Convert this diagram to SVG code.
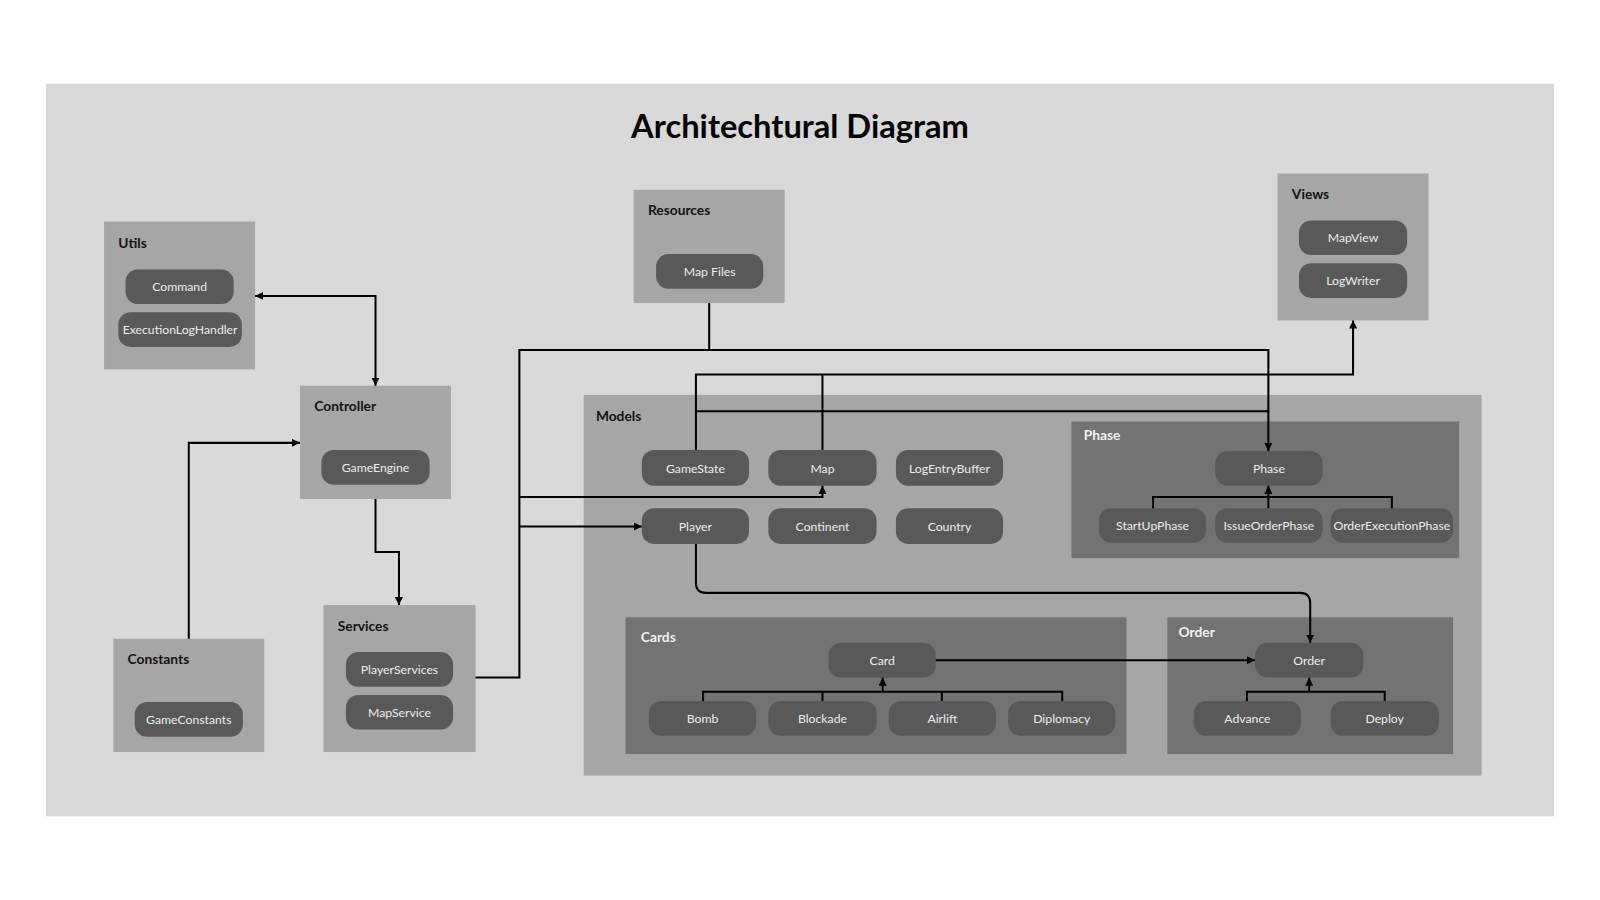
<svg xmlns="http://www.w3.org/2000/svg" width="1600" height="900" viewBox="0 0 1600 900">
<style>
.bg{fill:#d9d9d9}
.grp{fill:#a6a6a6}
.sub{fill:#737373}
.node{fill:#595959}
.nt{font-family:Lato,"Open Sans",sans-serif;font-size:12px;fill:#eeeeee;text-anchor:middle;dominant-baseline:central}
.gl{font-family:Lato,"Open Sans",sans-serif;font-size:13.5px;font-weight:bold;fill:#111111}
.glw{font-family:Lato,"Open Sans",sans-serif;font-size:13.5px;font-weight:bold;fill:#f2f2f2}
.title{font-family:Lato,"Open Sans",sans-serif;font-size:32px;font-weight:bold;fill:#000;text-anchor:middle}
.ln{fill:none;stroke:#000;stroke-width:2}
</style>
<defs>
<marker id="ah" viewBox="0 0 8 8" refX="8" refY="4" markerWidth="8" markerHeight="8" markerUnits="userSpaceOnUse" orient="auto-start-reverse">
<path d="M0,0 L8,4 L0,8 z" fill="#000"/>
</marker>
</defs>
<rect width="1600" height="900" fill="#ffffff"/>
<g transform="scale(1.020408)">
<rect class="bg" x="45" y="82" width="1478" height="718"/>
<text class="title" x="784" y="135">Architechtural Diagram</text>

<g id="utils">
<rect class="grp" x="102" y="217" width="148" height="145"/>
<text class="gl" x="116" y="243">Utils</text>
<rect class="node" x="123" y="264" width="106" height="34" rx="12"/>
<text class="nt" x="176" y="281">Command</text>
<rect class="node" x="116" y="306" width="121" height="34" rx="12"/>
<text class="nt" x="176.5" y="323">ExecutionLogHandler</text>
</g>

<g id="controller">
<rect class="grp" x="294" y="378" width="148" height="111"/>
<text class="gl" x="308" y="403">Controller</text>
<rect class="node" x="315" y="441" width="106" height="34" rx="12"/>
<text class="nt" x="368" y="458">GameEngine</text>
</g>

<g id="services">
<rect class="grp" x="317" y="593" width="149" height="144"/>
<text class="gl" x="331" y="618">Services</text>
<rect class="node" x="339" y="639" width="105" height="34" rx="12"/>
<text class="nt" x="391.5" y="656">PlayerServices</text>
<rect class="node" x="339" y="681" width="105" height="34" rx="12"/>
<text class="nt" x="391.5" y="698">MapService</text>
</g>

<g id="constants">
<rect class="grp" x="111" y="626" width="148" height="111"/>
<text class="gl" x="125" y="651">Constants</text>
<rect class="node" x="132" y="688" width="106" height="34" rx="12"/>
<text class="nt" x="185" y="705">GameConstants</text>
</g>

<g id="resources">
<rect class="grp" x="621" y="186" width="148" height="111"/>
<text class="gl" x="635" y="211">Resources</text>
<rect class="node" x="643" y="249" width="105" height="34" rx="12"/>
<text class="nt" x="695.5" y="266">Map Files</text>
</g>

<g id="views">
<rect class="grp" x="1252" y="170" width="148" height="144"/>
<text class="gl" x="1266" y="195">Views</text>
<rect class="node" x="1273" y="216" width="106" height="34" rx="12"/>
<text class="nt" x="1326" y="233">MapView</text>
<rect class="node" x="1273" y="258" width="106" height="34" rx="12"/>
<text class="nt" x="1326" y="275">LogWriter</text>
</g>

<g id="models">
<rect class="grp" x="572" y="387" width="880" height="373"/>
<text class="gl" x="584" y="413">Models</text>
<rect class="node" x="629" y="441" width="105" height="35" rx="12"/>
<text class="nt" x="681.5" y="459">GameState</text>
<rect class="node" x="753" y="441" width="106" height="35" rx="12"/>
<text class="nt" x="806" y="459">Map</text>
<rect class="node" x="878" y="441" width="105" height="35" rx="12"/>
<text class="nt" x="930.5" y="459">LogEntryBuffer</text>
<rect class="node" x="629" y="498" width="105" height="35" rx="12"/>
<text class="nt" x="681.5" y="516">Player</text>
<rect class="node" x="753" y="498" width="106" height="35" rx="12"/>
<text class="nt" x="806" y="516">Continent</text>
<rect class="node" x="878" y="498" width="105" height="35" rx="12"/>
<text class="nt" x="930.5" y="516">Country</text>
</g>

<g id="phase">
<rect class="sub" x="1050" y="413" width="380" height="134"/>
<text class="glw" x="1062" y="431">Phase</text>
<rect class="node" x="1191" y="442" width="105" height="34" rx="12"/>
<text class="nt" x="1243.5" y="459">Phase</text>
<rect class="node" x="1077" y="498" width="105" height="34" rx="12"/>
<text class="nt" x="1129.5" y="515">StartUpPhase</text>
<rect class="node" x="1191" y="498" width="105" height="34" rx="12"/>
<text class="nt" x="1243.5" y="515">IssueOrderPhase</text>
<rect class="node" x="1304" y="498" width="120" height="34" rx="12"/>
<text class="nt" x="1364" y="515">OrderExecutionPhase</text>
</g>

<g id="cards">
<rect class="sub" x="613" y="605" width="491" height="134"/>
<text class="glw" x="628" y="629">Cards</text>
<rect class="node" x="812" y="630" width="105" height="34" rx="12"/>
<text class="nt" x="864.5" y="647">Card</text>
<rect class="node" x="636" y="687" width="105" height="34" rx="12"/>
<text class="nt" x="688.5" y="704">Bomb</text>
<rect class="node" x="753" y="687" width="106" height="34" rx="12"/>
<text class="nt" x="806" y="704">Blockade</text>
<rect class="node" x="871" y="687" width="105" height="34" rx="12"/>
<text class="nt" x="923.5" y="704">Airlift</text>
<rect class="node" x="988" y="687" width="105" height="34" rx="12"/>
<text class="nt" x="1040.5" y="704">Diplomacy</text>
</g>

<g id="order">
<rect class="sub" x="1144" y="605" width="280" height="134"/>
<text class="glw" x="1155" y="624">Order</text>
<rect class="node" x="1230" y="630" width="106" height="34" rx="12"/>
<text class="nt" x="1283" y="647">Order</text>
<rect class="node" x="1170" y="687" width="105" height="34" rx="12"/>
<text class="nt" x="1222.5" y="704">Advance</text>
<rect class="node" x="1304" y="687" width="106" height="34" rx="12"/>
<text class="nt" x="1357" y="704">Deploy</text>
</g>

<g id="connectors">
<path class="ln" d="M250,290 H368 V378" marker-start="url(#ah)" marker-end="url(#ah)"/>
<path class="ln" d="M185,626 V434 H294" marker-end="url(#ah)"/>
<path class="ln" d="M368,489 V541 H391 V593" marker-end="url(#ah)"/>
<path class="ln" d="M466,664 H509 V343 H1243 V442" marker-end="url(#ah)"/>
<path class="ln" d="M695,297 V343"/>
<path class="ln" d="M509,487 H806 V476" marker-end="url(#ah)"/>
<path class="ln" d="M509,516 H629" marker-end="url(#ah)"/>
<path class="ln" d="M682,441 V367 H1326 V314" marker-end="url(#ah)"/>
<path class="ln" d="M806,441 V367"/>
<path class="ln" d="M682,403 H1243"/>
<path class="ln" d="M682,533 V571 Q682,581 692,581 H1274 Q1284,581 1284,591 V630" marker-end="url(#ah)"/>
<path class="ln" d="M917,647 H1230" marker-end="url(#ah)"/>
<path class="ln" d="M689,687 V678 H1041 V687 M806,678 V687 M923,678 V687"/>
<path class="ln" d="M865,678 V664" marker-end="url(#ah)"/>
<path class="ln" d="M1222,687 V678 H1357 V687"/>
<path class="ln" d="M1283,678 V664" marker-end="url(#ah)"/>
<path class="ln" d="M1130,498 V487 H1364 V498"/>
<path class="ln" d="M1243,498 V476" marker-end="url(#ah)"/>
</g>
</g>
</svg>
